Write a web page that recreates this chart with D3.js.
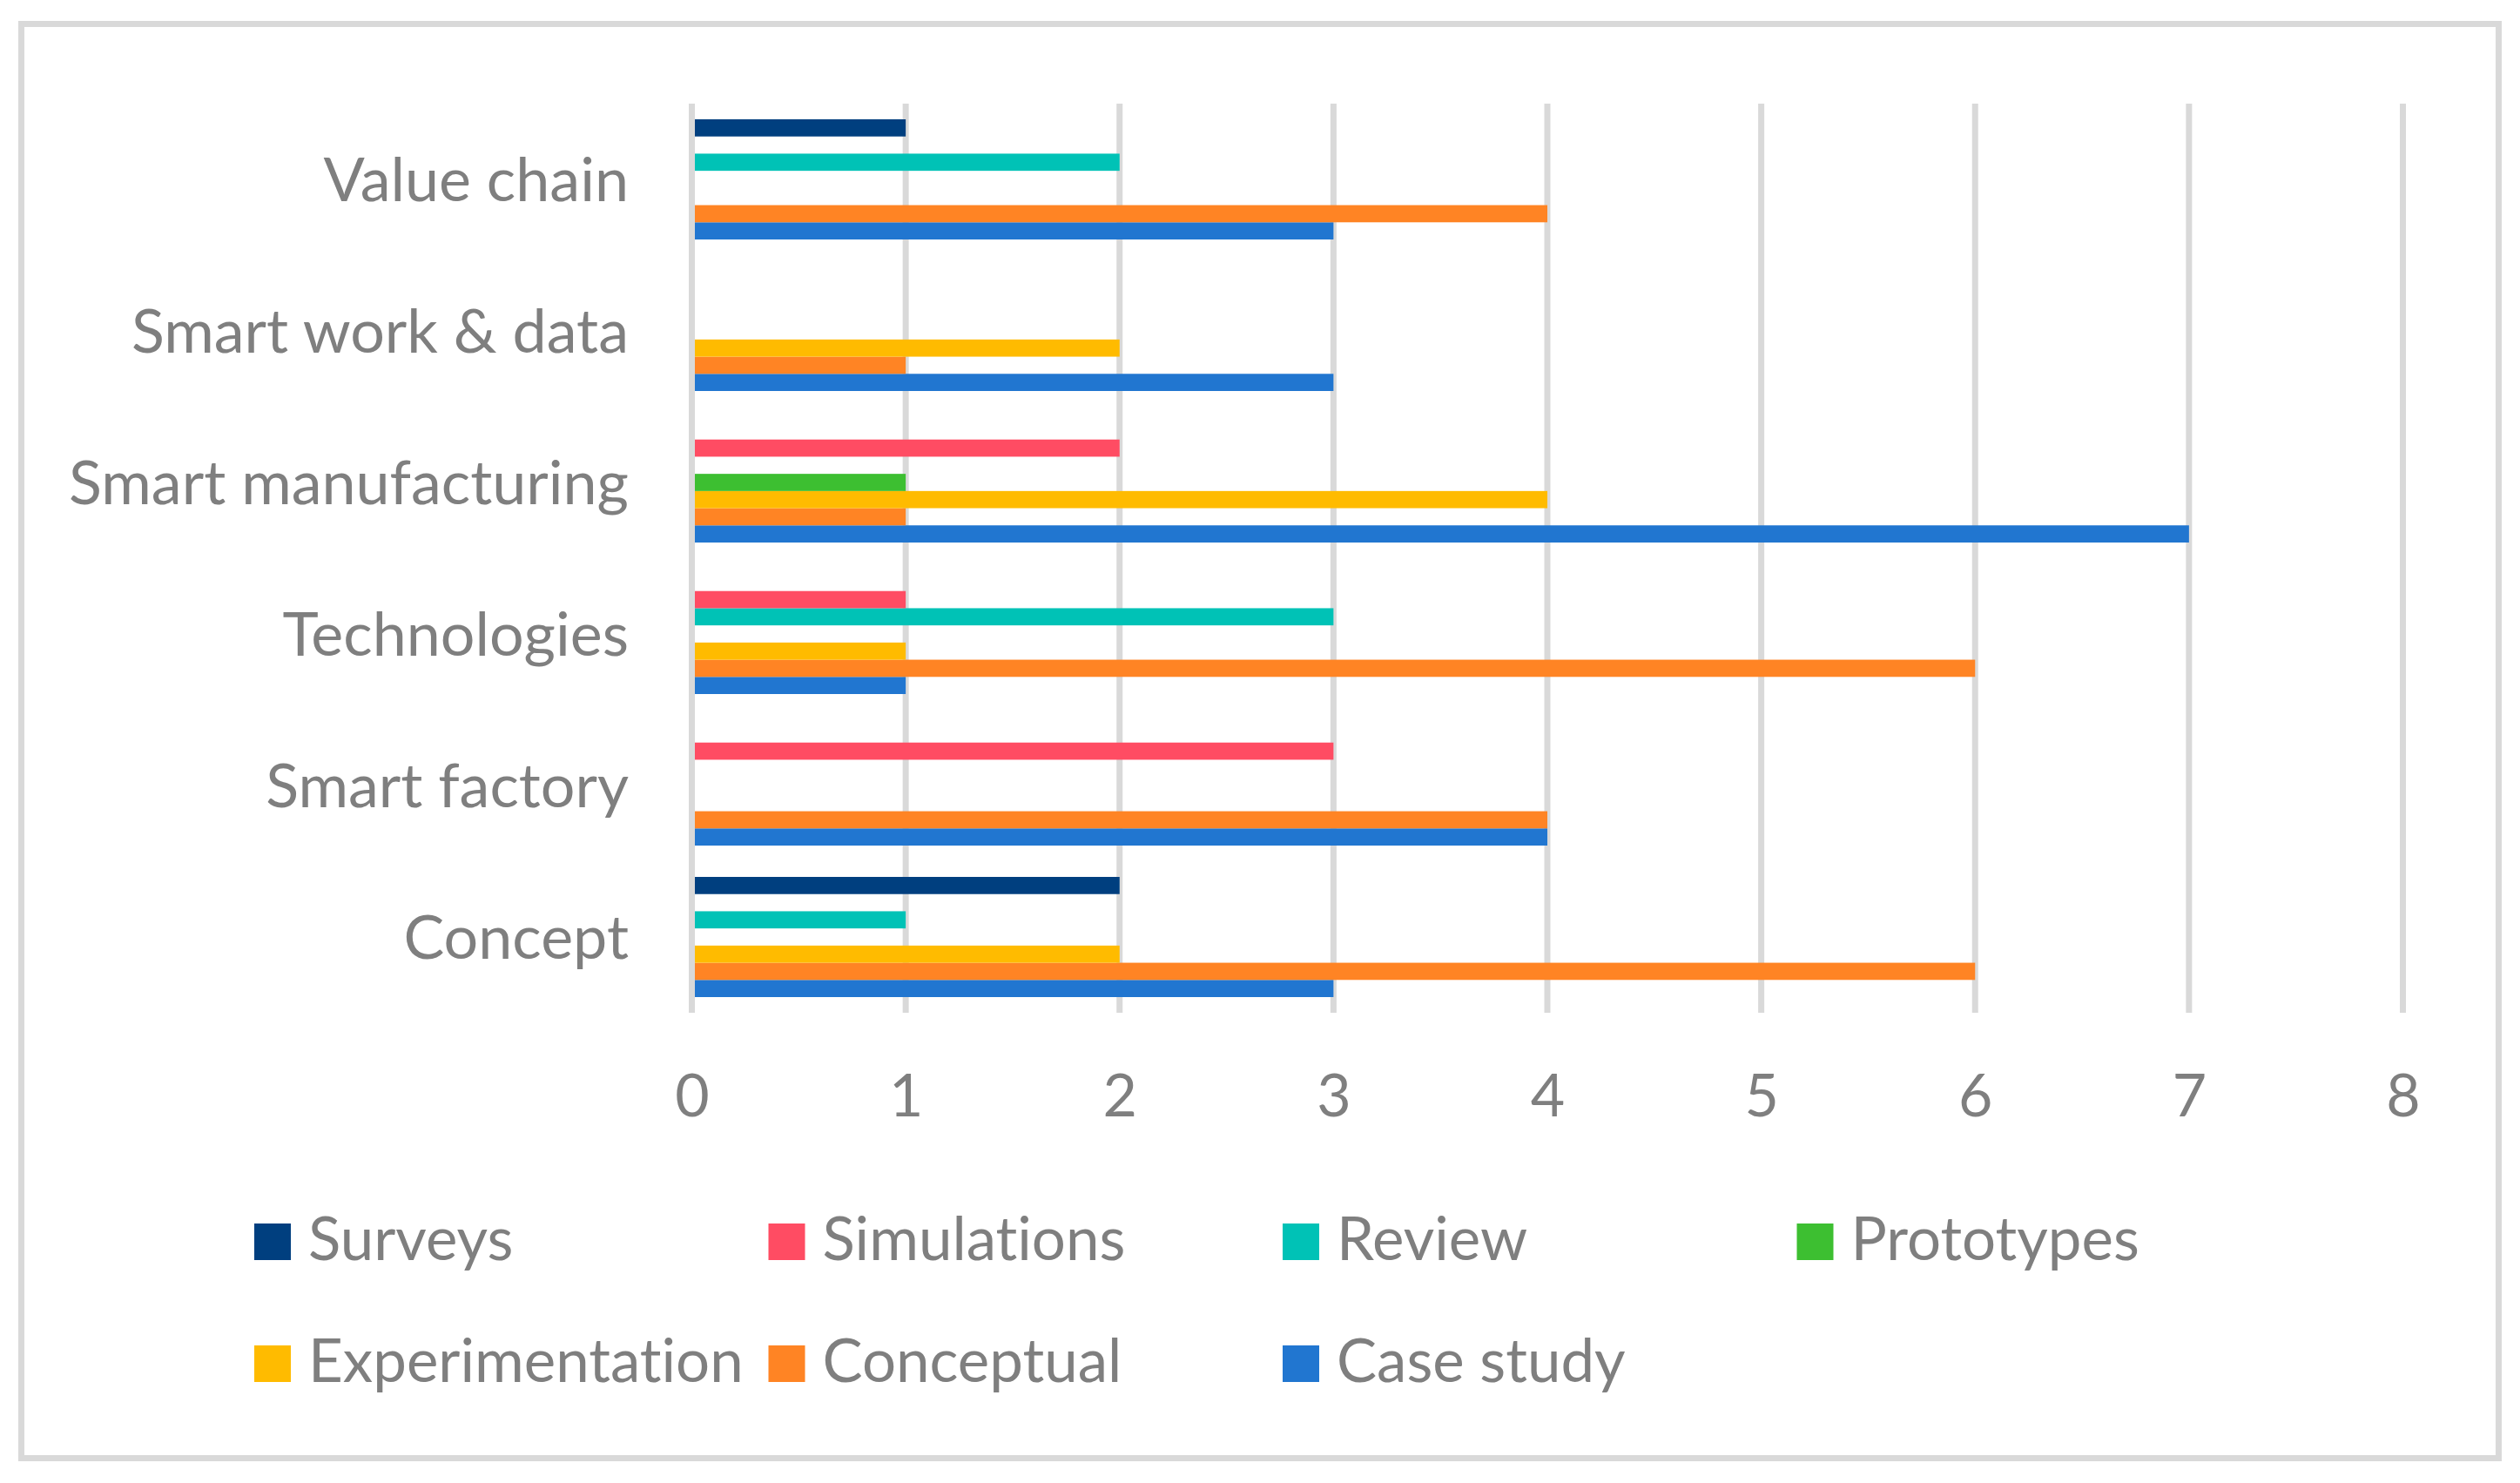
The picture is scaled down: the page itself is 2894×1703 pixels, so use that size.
<!DOCTYPE html>
<html>
<head>
<meta charset="utf-8">
<script src="https://cdn.jsdelivr.net/npm/d3@7"></script>
<style>
  html, body { margin: 0; padding: 0; background: #fff; }
  text { font-family: Lato, "Open Sans", sans-serif; fill: #7f7f7f; font-variant-ligatures: none; }
</style>
</head>
<body>
<div id="svg-container"></div>
<script>
// categorieen in Excel volgorde (eerste onderaan)
const categories = ["Concept", "Smart factory", "Technologies", "Smart manufacturing", "Smart work & data", "Value chain"]

// series in Excel volgorde (eerste onderaan in elke groep)
const seriesNames = ["Case study", "Conceptual", "Experimentation", "Prototypes", "Review", "Simulations", "Surveys"]
const caseStudy       = [3, 4, 1, 7, 3, 3]
const conceptual      = [6, 4, 6, 1, 1, 4]
const experimentation = [2, 0, 1, 4, 2, 0]
const prototypes      = [0, 0, 0, 1, 0, 0]
const review          = [1, 0, 3, 0, 0, 2]
const simulations     = [0, 3, 1, 2, 0, 0]
const surveys         = [2, 0, 0, 0, 0, 1]
const seriesValues = [caseStudy, conceptual, experimentation, prototypes, review, simulations, surveys]
const seriesColors = ["#2176d0", "#ff8424", "#ffbb00", "#3dbf31", "#00c2b6", "#ff4c63", "#003f7f"]

const xTicks = [0, 1, 2, 3, 4, 5, 6, 7, 8]

const width = 2894
const height = 1703

const svg = d3.select('#svg-container')
    .append('svg').attr('width', width).attr('height', height)

svg.append('rect').attr('width', width).attr('height', height).attr('fill', '#fff')

// rand om de grafiek
svg.append('rect')
    .attr('x', 24.5).attr('y', 27.5)
    .attr('width', 2845).attr('height', 1647)
    .attr('fill', 'none').attr('stroke', '#d9d9d9').attr('stroke-width', 7)

const plot = { left: 794.5, right: 2759.5, top: 119, bottom: 1163 }

const xScale = d3.scaleLinear()
    .domain([0, 8])
    .range([plot.left, plot.right])

// bovenste categorie eerst
const yScale = d3.scaleBand()
    .domain(categories.slice().reverse())
    .range([plot.top, plot.bottom])
    .paddingInner(0.207)
    .paddingOuter(0.1035)

const ySub = d3.scaleBand()
    .domain(seriesNames.slice().reverse())
    .range([0, yScale.bandwidth()])

// rasterlijnen
const grid = svg.append('g')
grid.selectAll('line').data(xTicks.filter(t => t > 0))
    .enter().append('line')
    .attr('x1', d => xScale(d)).attr('x2', d => xScale(d))
    .attr('y1', plot.top).attr('y2', plot.bottom)
    .attr('stroke', '#d9d9d9').attr('stroke-width', 7)

// balken
const bars = []
seriesNames.forEach((s, si) => {
    categories.forEach((c, ci) => {
        bars.push({ series: s, category: c, value: seriesValues[si][ci], color: seriesColors[si] })
    })
})

svg.append('g').selectAll('rect').data(bars.filter(d => d.value > 0))
    .enter().append('rect')
    .attr('x', xScale(0))
    .attr('y', d => yScale(d.category) + ySub(d.series))
    .attr('width', d => xScale(d.value) - xScale(0))
    .attr('height', ySub.bandwidth())
    .attr('fill', d => d.color)

// nul-lijn bovenop
svg.append('line')
    .attr('x1', xScale(0)).attr('x2', xScale(0))
    .attr('y1', plot.top).attr('y2', plot.bottom)
    .attr('stroke', '#d9d9d9').attr('stroke-width', 7)

// x-as labels
const xAxis = svg.append('g')
    .attr('transform', `translate(0, ${plot.bottom})`)
    .call(d3.axisBottom(xScale).tickValues(xTicks).tickSize(0).tickPadding(0).tickFormat(d3.format('d')))
xAxis.select('.domain').remove()
xAxis.selectAll('text')
    .attr('y', 119).attr('dy', null)
    .attr('font-size', 68)
    .style('font-family', 'Lato, sans-serif')
    .attr('fill', '#7f7f7f')

// categorie labels
svg.append('g').selectAll('text').data(categories)
    .enter().append('text')
    .attr('x', 722)
    .attr('y', d => yScale(d) + yScale.bandwidth() / 2 + 25)
    .attr('text-anchor', 'end')
    .attr('font-size', 70)
    .text(d => d)

// legenda
const legendOrder = seriesNames.slice().reverse()
const legend = svg.append('g').selectAll('g').data(legendOrder)
    .enter().append('g')
    .attr('transform', (d, i) => `translate(${292 + (i % 4) * 590.5}, ${1405 + Math.floor(i / 4) * 140})`)
legend.append('rect')
    .attr('width', 42).attr('height', 42)
    .attr('fill', d => seriesColors[seriesNames.indexOf(d)])
legend.append('text')
    .attr('x', 62).attr('y', 42)
    .attr('font-size', 69)
    .text(d => d)
</script>
</body>
</html>
